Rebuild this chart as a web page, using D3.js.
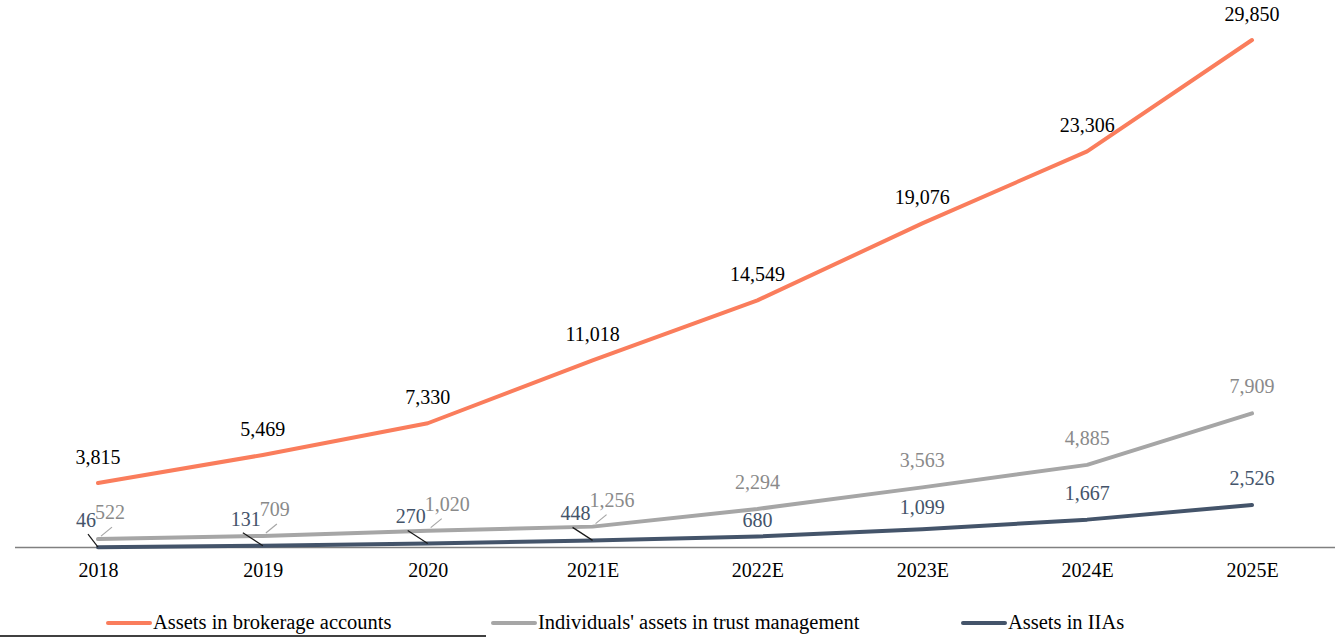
<!DOCTYPE html>
<html>
<head>
<meta charset="utf-8">
<script src="https://cdn.jsdelivr.net/npm/d3@7/dist/d3.min.js"></script>
<style>
  html, body { margin: 0; padding: 0; background: #fff; }
  svg { display: block; }
  text { font-family: "Liberation Serif", "Times New Roman", serif; }
</style>
</head>
<body>
<div id="chart"></div>
<script>
// ---- Data ----
const categories = ["2018", "2019", "2020", "2021E", "2022E", "2023E", "2024E", "2025E"];
const brokerage = [3815, 5469, 7330, 11018, 14549, 19076, 23306, 29850];
const trust = [522, 709, 1020, 1256, 2294, 3563, 4885, 7909];
const iias = [46, 131, 270, 448, 680, 1099, 1667, 2526];
const seriesNames = ["Assets in brokerage accounts", "Individuals' assets in trust management", "Assets in IIAs"];

// ---- Layout ----
const W = 1335, H = 637;
const svg = d3.select("#chart").append("svg").attr("width", W).attr("height", H);

const x = d3.scalePoint().domain(categories).range([98, 1252]);
const y = d3.scaleLinear().domain([0, 29850]).range([548, 40]);

const colors = ["#FA7D5C", "#A6A6A6", "#44546A"];
const labelColors = ["#000000", "#8A8A8A", "#44546A"];
const seriesData = [brokerage, trust, iias];

// axis baseline
svg.append("line")
  .attr("x1", 15).attr("x2", W).attr("y1", 547.5).attr("y2", 547.5)
  .attr("stroke", "#808080").attr("stroke-width", 1.5);

// x axis labels
const xAxis = d3.axisBottom(x).tickSize(0).tickPadding(0);
const gx = svg.append("g").attr("transform", "translate(0,563)").call(xAxis);
gx.select(".domain").remove();
gx.selectAll("text")
  .attr("font-family", "Liberation Serif, serif")
  .attr("font-size", 20)
  .attr("fill", "#000")
  .attr("dy", "0.71em");

// lines
const line = d3.line().x((d, i) => x(categories[i])).y(d => y(d));
seriesData.forEach((vals, s) => {
  svg.append("path")
    .datum(vals)
    .attr("d", line)
    .attr("fill", "none")
    .attr("stroke", colors[s])
    .attr("stroke-width", 4)
    .attr("stroke-linecap", "round")
    .attr("stroke-linejoin", "round");
});

const fmt = d3.format(",");

// leader lines for crowded early labels
seriesData.forEach((vals, s) => {
  vals.forEach((v, i) => {
    if (s === 0 || i > 3) return;
    const px = x(categories[i]), py = y(v);
    if (s === 1) {
      svg.append("line")
        .attr("x1", px + 14).attr("y1", py - 12)
        .attr("x2", px + 3).attr("y2", py - 3)
        .attr("stroke", "#A6A6A6").attr("stroke-width", 1.2);
    } else {
      svg.append("line")
        .attr("x1", px - (i === 0 ? 10 : 20)).attr("y1", py - 13)
        .attr("x2", px).attr("y2", py)
        .attr("stroke", "#1a1a1a").attr("stroke-width", 1.2);
    }
  });
});

// data labels
seriesData.forEach((vals, s) => {
  vals.forEach((v, i) => {
    const px = x(categories[i]), py = y(v);
    let tx = px, ty = py - 19, anchor = "middle";
    if (s === 1) {
      ty = py - 20;
      if (i <= 3) { tx = px - 3; anchor = "start"; }
    }
    if (s === 2) {
      ty = py - 20;
      if (i <= 3) { tx = px - 2; anchor = "end"; }
      if (i === 4) ty = py - 9;
      if (i === 5) ty = py - 15;
    }
    svg.append("text")
      .attr("x", tx).attr("y", ty)
      .attr("text-anchor", anchor)
      .attr("font-size", 20)
      .attr("fill", labelColors[s])
      .text(fmt(v));
  });
});

// legend
const legendX = [108, 493, 963];
const legend = svg.append("g");
seriesNames.forEach((name, s) => {
  legend.append("line")
    .attr("x1", legendX[s]).attr("x2", legendX[s] + 42)
    .attr("y1", 623).attr("y2", 623)
    .attr("stroke", colors[s]).attr("stroke-width", 4)
    .attr("stroke-linecap", "round");
  legend.append("text")
    .attr("x", legendX[s] + 45).attr("y", 629)
    .attr("font-size", 20.5)
    .attr("fill", "#000")
    .text(name);
});

// footnote separator
svg.append("line")
  .attr("x1", 0).attr("x2", 486).attr("y1", 636).attr("y2", 636)
  .attr("stroke", "#000").attr("stroke-width", 1.5);
</script>
</body>
</html>
